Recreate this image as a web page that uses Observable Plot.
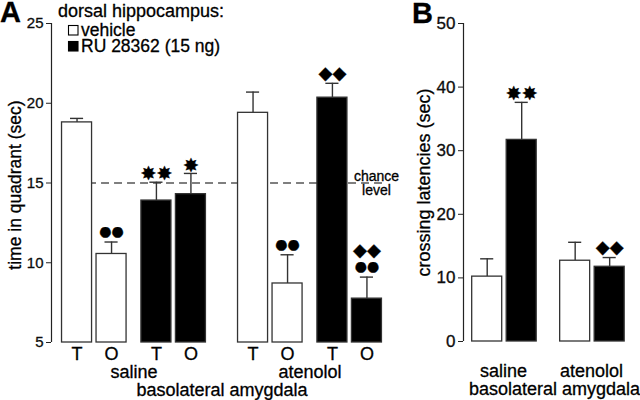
<!DOCTYPE html>
<html><head><meta charset="utf-8">
<script src="https://cdn.jsdelivr.net/npm/d3@7"></script>
<script src="https://cdn.jsdelivr.net/npm/@observablehq/plot@0.6"></script>
<style>
body{margin:0;background:#fff;}
#wrap{position:relative;width:640px;height:400px;overflow:hidden;background:#fff;}
#wrap svg{position:absolute;top:0;}
#wrap text{stroke:#000;stroke-width:0.3px;}
</style></head><body><div id="wrap"></div>
<script>
// ---------- Panel A: time in quadrant ----------
const quadrantsA = ["T","O","T","O","T","O","T","O"];
const treatmentsA = ["vehicle","vehicle","RU 28362","RU 28362","vehicle","vehicle","RU 28362","RU 28362"];
const infusionsA = ["saline","saline","saline","saline","atenolol","atenolol","atenolol","atenolol"];
const timeMeans = [18.8, 10.55, 13.9, 14.3, 19.4, 8.7, 20.35, 7.75];
const timeSEM   = [0.25, 0.75, 1.15, 1.3, 1.3, 1.8, 0.9, 1.35];
// significance symbols, rows listed from the bar upward
const sigA = [[], ["●●"], ["✸✸"], ["✸"], [], ["●●"], ["◆◆"], ["●●", "◆◆"]];
const yTicksA = [5, 10, 15, 20, 25];
const chanceLevel = 15;

// ---------- Panel B: crossing latencies ----------
const infusionsB = ["saline","saline","atenolol","atenolol"];
const treatmentsB = ["vehicle","RU 28362","vehicle","RU 28362"];
const latencyMeans = [10.2, 31.7, 12.7, 11.75];
const latencySEM   = [2.8, 5.9, 2.9, 1.45];
const sigB = [[], ["✸✸"], [], ["◆◆"]];
const yTicksB = [0, 10, 20, 30, 40, 50];

const groupOrder = ["saline","atenolol"];
const regionLabel = "basolateral amygdala";
const drugOrder = ["vehicle","RU 28362"];
const drugLabels = ["vehicle", "RU 28362 (15 ng)"];
const quadOrder = ["T","O"];

// layout (in slot units)
const BAR = 0.87;
const posA = i => groupOrder.indexOf(infusionsA[i]) * 5.1 + drugOrder.indexOf(treatmentsA[i]) * 2.3 + quadOrder.indexOf(quadrantsA[i]);
const posB = i => groupOrder.indexOf(infusionsB[i]) * 2.55 + drugOrder.indexOf(treatmentsB[i]);

const dataA = quadrantsA.map((q, i) => ({q, treatment: treatmentsA[i], infusion: infusionsA[i], mean: timeMeans[i], sem: timeSEM[i], pos: posA(i)}));
const dataB = infusionsB.map((g, i) => ({infusion: g, treatment: treatmentsB[i], mean: latencyMeans[i], sem: latencySEM[i], pos: posB(i)}));

const symSize = s => s.includes("●") ? 14 : s.includes("◆") ? 18 : 19;
const symLift = s => s.includes("●") ? 15.5 : s.includes("◆") ? 17 : 15;
const sigRows = (data, sig) => data.flatMap((d, i) => sig[i].map((s, k) => ({pos: d.pos, top: d.mean + d.sem, s, k, size: symSize(s), lift: symLift(s)})));
const sigRowsA = sigRows(dataA, sigA);
const sigRowsB = sigRows(dataB, sigB);

const groupsA = groupOrder.map(g => ({g, pos: d3.mean(dataA.filter(d => d.infusion === g), d => d.pos)}));
const groupsB = groupOrder.map(g => ({g, pos: d3.mean(dataB.filter(d => d.infusion === g), d => d.pos)}));

const FONT = "Liberation Sans, Arial, Helvetica, sans-serif";
const SYM = "DejaVu Sans, sans-serif";
const colorScale = {domain: drugOrder, range: ["#ffffff", "#000000"]};

const sigMark = rows => Plot.text(rows, {x: "pos", y: "top", text: "s", fontSize: "size", lineAnchor: "middle",
  fontFamily: SYM, fill: "#000",
  render: (index, scales, values, dims, context, next) => {
    const g = next(index, scales, values, dims, context);
    d3.select(g).selectAll("text").each(function(_, j) {
      const r = rows[index[j]];
      d3.select(this).attr("dy", null).attr("dominant-baseline", "central")
        .attr("transform", (this.getAttribute("transform") || "") + ` translate(0,${-r.lift - r.k * 16})`);
    });
    return g;
  }});

const xDomA = [-0.74, 8.88];
const plotA = Plot.plot({
  width: 405, height: 400,
  marginLeft: 51, marginRight: 22, marginTop: 23, marginBottom: 58,
  x: {type: "linear", domain: xDomA, axis: null},
  y: {domain: [5, 25], axis: null},
  color: colorScale,
  style: {fontFamily: FONT, background: "transparent", overflow: "visible", color: "#111"},
  marks: [
    Plot.ruleY([chanceLevel], {x1: xDomA[0] + 0.32, x2: xDomA[1], stroke: "#555", strokeWidth: 1.6, strokeDasharray: "8,5"}),
    Plot.ruleX(dataA, {x: "pos", y1: "mean", y2: d => d.mean + d.sem, stroke: "#333", strokeWidth: 1.4}),
    Plot.ruleY(dataA, {y: d => d.mean + d.sem, x1: d => d.pos - 0.19, x2: d => d.pos + 0.19, stroke: "#333", strokeWidth: 1.4}),
    Plot.rectY(dataA, {x1: d => d.pos - BAR / 2, x2: d => d.pos + BAR / 2, y1: 5, y2: "mean", fill: "treatment", stroke: "#333", strokeWidth: 1.3}),
    sigMark(sigRowsA),
    Plot.text(dataA, {x: "pos", y: 5, text: "q", dy: 12, lineAnchor: "middle", fontSize: 18, fill: "#000"}),
    Plot.text(groupsA, {x: "pos", y: 5, text: "g", dy: 30, lineAnchor: "middle", fontSize: 18, fill: "#000"}),
    Plot.text([groupsA], {x: d => d3.mean(d, e => e.pos), y: 5, text: () => regionLabel, dy: 48, lineAnchor: "middle", fontSize: 18, fill: "#000"}),
    Plot.text([chanceLevel], {x: xDomA[1], y: d => d, text: () => "chance\nlevel", dx: -7, dy: 1, lineAnchor: "middle", lineHeight: 1.0, fontSize: 14, fill: "#000"}),
    Plot.axisY({ticks: yTicksA, tickSize: 5, tickPadding: 3, fontSize: 15, label: null, stroke: "#222"}),
    Plot.ruleX([xDomA[0]], {y1: 5, y2: 25, stroke: "#222", strokeWidth: 1.2}),
    Plot.text(["time in quadrant (sec)"], {frameAnchor: "left", textAnchor: "middle", rotate: -90, dx: -36, dy: 2, lineAnchor: "middle", fontSize: 17.5, fill: "#000"})
  ]
});

const xDomB = [-0.687, 4.096];
const plotB = Plot.plot({
  width: 235, height: 400,
  marginLeft: 58, marginRight: 12, marginTop: 23, marginBottom: 59,
  x: {type: "linear", domain: xDomB, axis: null},
  y: {domain: [0, 50], axis: null},
  color: colorScale,
  style: {fontFamily: FONT, background: "transparent", overflow: "visible", color: "#111"},
  marks: [
    Plot.ruleX(dataB, {x: "pos", y1: "mean", y2: d => d.mean + d.sem, stroke: "#333", strokeWidth: 1.4}),
    Plot.ruleY(dataB, {y: d => d.mean + d.sem, x1: d => d.pos - 0.19, x2: d => d.pos + 0.19, stroke: "#333", strokeWidth: 1.4}),
    Plot.rectY(dataB, {x1: d => d.pos - BAR / 2, x2: d => d.pos + BAR / 2, y1: 0, y2: "mean", fill: "treatment", stroke: "#333", strokeWidth: 1.3}),
    sigMark(sigRowsB),
    Plot.text(groupsB, {x: "pos", y: 0, text: "g", dy: 30, dx: -1, lineAnchor: "middle", fontSize: 18, fill: "#000"}),
    Plot.text([groupsB], {x: d => d3.mean(d, e => e.pos), y: 0, text: () => regionLabel, dy: 48, dx: 6, lineAnchor: "middle", fontSize: 18, fill: "#000"}),
    Plot.axisY({ticks: yTicksB, tickSize: 5, tickPadding: 3, fontSize: 17, label: null, stroke: "#222"}),
    Plot.ruleX([xDomB[0]], {y1: 0, y2: 50, stroke: "#222", strokeWidth: 1.2}),
    Plot.text(["crossing latencies (sec)"], {frameAnchor: "left", textAnchor: "middle", rotate: -90, dx: -39, dy: 0, lineAnchor: "middle", fontSize: 18, fill: "#000"})
  ]
});

const wrap = document.getElementById("wrap");
plotA.style.left = "0px";
plotB.style.left = "405px";
wrap.appendChild(plotA);
wrap.appendChild(plotB);

// overlay: panel letters and legend
const ov = d3.create("svg").attr("width", 640).attr("height", 400)
  .style("left", "0px").style("pointer-events", "none")
  .attr("font-family", FONT);
ov.append("text").attr("x", 0).attr("y", 22).attr("font-size", 29).attr("font-weight", "bold").text("A");
ov.append("text").attr("x", 412).attr("y", 22.5).attr("font-size", 29).attr("font-weight", "bold").text("B");
ov.append("text").attr("x", 58).attr("y", 17).attr("font-size", 18).text("dorsal hippocampus:");
drugOrder.forEach((d, i) => {
  const y0 = 25.5 + i * 16;
  ov.append("rect").attr("x", 68.5).attr("y", y0).attr("width", 9.5).attr("height", 9.5)
    .attr("fill", colorScale.range[i]).attr("stroke", "#000").attr("stroke-width", 1.1);
  ov.append("text").attr("x", 81).attr("y", y0 + 10).attr("font-size", 17.5).text(drugLabels[i]);
});
wrap.appendChild(ov.node());
</script></body></html>
